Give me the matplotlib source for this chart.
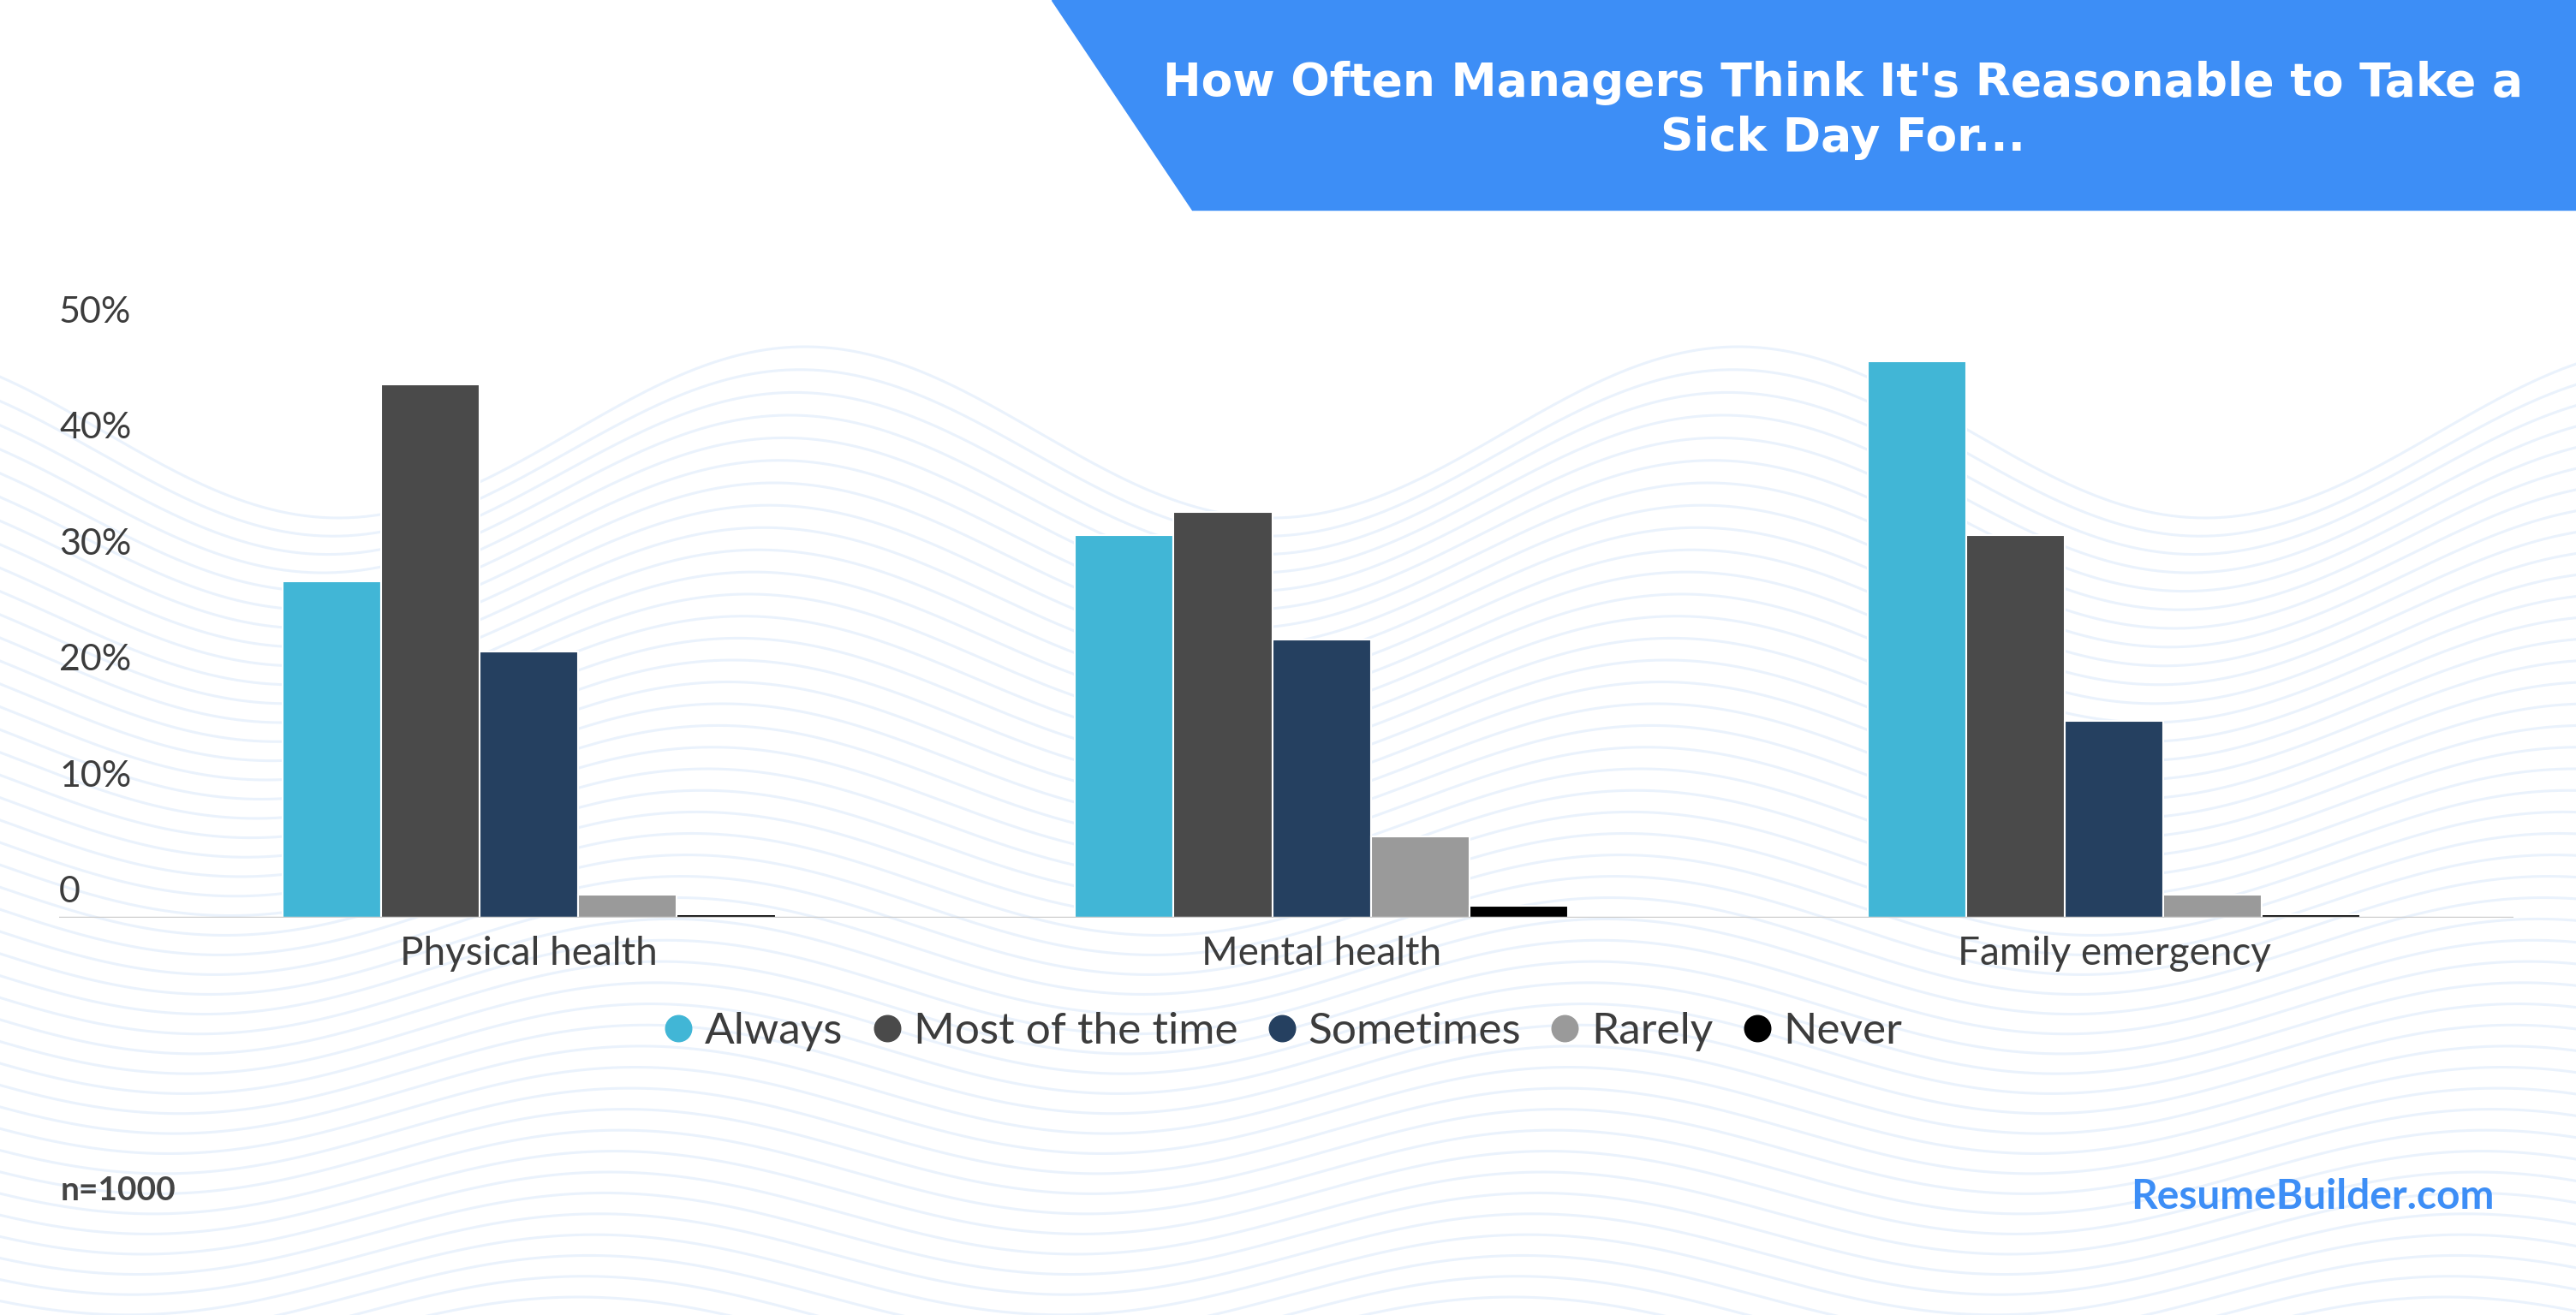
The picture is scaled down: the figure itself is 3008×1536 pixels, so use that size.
import numpy as np
import matplotlib.pyplot as plt
from matplotlib.patches import Polygon
from matplotlib.lines import Line2D
import matplotlib.transforms as mtransforms

# データ
categories = ['Physical health', 'Mental health', 'Family emergency']
series = ['Always', 'Most of the time', 'Sometimes', 'Rarely', 'Never']
always = [29, 33, 48]
most_time = [46, 35, 33]
sometimes = [23, 24, 17]
rarely = [2, 7, 2]
never = [0.3, 1, 0.3]
yticks = [0, 10, 20, 30, 40, 50]
ytick_labels = ['0', '10%', '20%', '30%', '40%', '50%']

colors = ['#41b6d6', '#4a4a4a', '#254060', '#9a9a9a', '#000000']
blue = '#3d8ef6'
text_col = '#3c3c3c'
font = 'Lato'

W, H = 3008, 1536
fig = plt.figure(figsize=(W / 100, H / 100), dpi=100)
fig.patch.set_facecolor('white')

# 背景の波線(装飾)
bg = fig.add_axes([0, 0, 1, 1], zorder=0)
bg.set_xlim(0, W)
bg.set_ylim(H, 0)
bg.axis('off')
xs = np.linspace(0, W, 600)
for k in range(48):
    amp = 100 * np.exp(-k / 30.0) + 25 * (k / 48.0)
    phase = 940 - k * 6
    ys = 505 + k * 24 - amp * np.cos(2 * np.pi * (xs - phase) / 1090)
    bg.plot(xs, ys, color='#e3eefb', lw=2.2, alpha=0.75)

# タイトルバナー
bg.add_patch(Polygon([(1228, 0), (W, 0), (W, 245), (1392, 245)],
                     closed=True, color=blue, zorder=3))
bg.text(2152, 129, "How Often Managers Think It's Reasonable to Take a\nSick Day For...",
        ha='center', va='center', color='white', fontsize=38.5, fontweight='bold',
        family='DejaVu Sans', linespacing=1.3, zorder=4)

# 棒グラフ
ax = fig.add_axes([69 / W, 1 - 1072 / H, (2935 - 69) / W, (1072 - 395) / H], zorder=2)
ax.set_facecolor('none')
x = np.arange(len(categories))
bw = 0.1244
for i, (name, vals) in enumerate(zip(series, [always, most_time, sometimes, rarely, never])):
    ax.bar(x + (i - 2) * bw, vals, width=bw, color=colors[i], edgecolor='white',
           linewidth=1.5, label=name, zorder=3)

ax.set_xlim(-0.593, 2.504)
ax.set_ylim(0, 50)
for s in ax.spines.values():
    s.set_visible(False)
ax.axhline(0, color='#cfcfcf', lw=2.5, zorder=4)
ax.set_xticks([])
ax.set_yticks([])

# y軸ラベル(線の上に表示)
trans_y = mtransforms.blended_transform_factory(ax.transAxes, ax.transData)
trans_y = mtransforms.offset_copy(trans_y, fig=fig, y=30, units='dots')
for v, lab in zip(yticks, ytick_labels):
    ax.text(0, v, lab, transform=trans_y, ha='left', va='center',
            fontsize=31, color=text_col, family=font)

# カテゴリラベル
trans_x = mtransforms.offset_copy(ax.transData, fig=fig, y=-42, units='dots')
for xi, c in zip(x, categories):
    ax.text(xi, 0, c, transform=trans_x, ha='center', va='center',
            fontsize=33, color=text_col, family=font)

# 凡例
handles = [Line2D([0], [0], marker='o', linestyle='none', markersize=22,
                  markerfacecolor=c, markeredgecolor=c) for c in colors]
leg = fig.legend(handles, series, loc='center', bbox_to_anchor=(1494 / W, 1 - 1205 / H),
                 ncol=5, frameon=False, handletextpad=0.1, columnspacing=0.5,
                 handlelength=1.0, prop={'family': font, 'size': 37})
for t in leg.get_texts():
    t.set_color(text_col)

# フッター
fig.text(71 / W, 1 - 1391 / H, 'n=1000', ha='left', va='center', fontsize=28,
         fontweight='bold', color='#444444', family=font)
fig.text(2913 / W, 1 - 1398 / H, 'ResumeBuilder.com', ha='right', va='center',
         fontsize=34.5, fontweight='bold', color=blue, family=font)

plt.savefig('out.png', dpi=100)
